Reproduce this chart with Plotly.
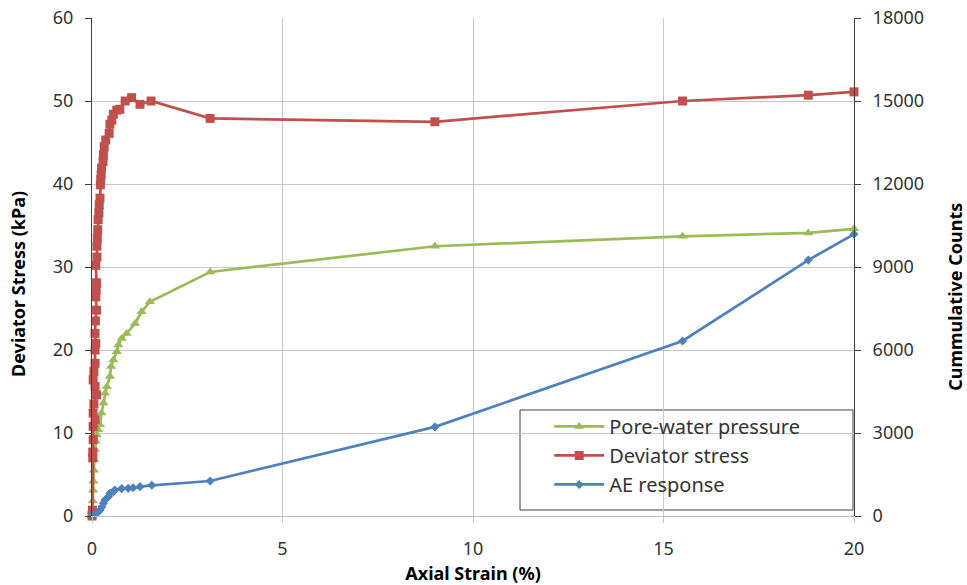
import plotly.graph_objects as go

# Deviator stress (kPa) vs axial strain (%)
dev_strain = [0.00, 0.01, 0.02, 0.02, 0.03, 0.03, 0.08, 0.03, 0.05, 0.12, 0.08, 0.03, 0.05, 0.08, 0.08,
              0.10, 0.08, 0.09, 0.12, 0.10, 0.11, 0.12, 0.10, 0.13, 0.13, 0.14, 0.15, 0.16, 0.18, 0.19,
              0.21, 0.22, 0.23, 0.24, 0.25, 0.29, 0.30, 0.32, 0.36, 0.45, 0.47, 0.52, 0.56, 0.65, 0.73,
              0.87, 1.04, 1.26, 1.55, 3.10, 9.00, 15.50, 18.80, 20.00]
dev_stress = [0.0, 0.7, 7.0, 7.7, 9.2, 10.8, 11.6, 12.4, 13.5, 14.6, 15.6, 16.4, 17.4, 18.4, 20.0,
              20.8, 22.0, 23.5, 24.8, 26.4, 27.2, 28.1, 30.2, 31.2, 32.5, 33.5, 34.5, 35.7, 36.5, 37.5,
              38.3, 39.9, 40.5, 41.1, 41.9, 42.7, 43.5, 44.5, 45.3, 46.1, 47.2, 47.7, 48.4, 48.9, 49.0,
              50.0, 50.4, 49.6, 50.0, 47.9, 47.5, 50.0, 50.7, 51.1]

# Pore-water pressure (kPa) vs axial strain (%)
pwp_strain = [0.00, 0.01, 0.02, 0.03, 0.04, 0.05, 0.06, 0.08, 0.10, 0.12, 0.16, 0.21, 0.25, 0.30, 0.34,
              0.39, 0.47, 0.50, 0.56, 0.65, 0.69, 0.78, 0.91, 1.13, 1.30, 1.52, 3.10, 9.00, 15.50, 18.80, 20.00]
pwp = [0.0, 0.8, 1.8, 3.1, 4.2, 5.5, 6.8, 8.0, 9.0, 9.8, 10.4, 11.0, 12.4, 13.6, 14.8,
       15.6, 16.8, 18.0, 18.8, 19.8, 20.6, 21.4, 22.0, 23.2, 24.6, 25.8, 29.4, 32.5, 33.7, 34.1, 34.6]

# AE response (cumulative counts) vs axial strain (%)
ae_strain = [0.00, 0.02, 0.05, 0.08, 0.12, 0.17, 0.21, 0.26, 0.30, 0.34, 0.43, 0.47, 0.56, 0.60,
             0.78, 0.95, 1.08, 1.26, 1.57, 3.10, 9.00, 15.50, 18.80, 20.00]
ae_counts = [0, 20, 50, 80, 100, 155, 217, 330, 460, 580, 700, 820, 880, 940,
             990, 1000, 1020, 1060, 1110, 1265, 3220, 6325, 9250, 10190]

x_ticks = [0, 5, 10, 15, 20]
y_ticks = [0, 10, 20, 30, 40, 50, 60]
y2_ticks = [0, 3000, 6000, 9000, 12000, 15000, 18000]

FONT = "Noto Sans"
RED = "#C0504D"
GREEN = "#9BBB59"
BLUE = "#4F81BD"
TXT = "#333333"

fig = go.Figure()
fig.add_trace(go.Scatter(x=pwp_strain, y=pwp, name="Pore-water pressure", mode="lines+markers",
                         line=dict(color=GREEN, width=2.75), legendgroup="a",
                         marker=dict(symbol="triangle-up", size=9, color=GREEN), cliponaxis=False))
fig.add_trace(go.Scatter(x=dev_strain, y=dev_stress, name="Deviator stress", mode="lines+markers",
                         line=dict(color=RED, width=2.75), legendgroup="b",
                         marker=dict(symbol="square", size=9, color=RED), cliponaxis=False))
fig.add_trace(go.Scatter(x=ae_strain, y=ae_counts, name="AE response", mode="lines+markers", yaxis="y2",
                         line=dict(color=BLUE, width=2.75), legendgroup="c",
                         marker=dict(symbol="diamond", size=7, color=BLUE), cliponaxis=False))

fig.update_layout(
    width=967, height=585,
    margin=dict(l=92, r=113, t=18, b=69, autoexpand=False),
    paper_bgcolor="white", plot_bgcolor="white",
    font=dict(family=FONT, size=18, color=TXT),
    xaxis=dict(range=[0, 20], tickvals=x_ticks, ticks="outside", ticklen=6, tickcolor="#BFBFBF",
               showline=True, linecolor="#BFBFBF", linewidth=1, showgrid=True, gridcolor="#C8C8C8",
               zeroline=False, tickfont=dict(size=18), ticklabelstandoff=10, automargin=False,
               title=dict(text="<b>Axial Strain (%)</b>", font=dict(size=18, color="black"), standoff=10)),
    yaxis=dict(range=[0, 60], tickvals=y_ticks, ticks="outside", ticklen=6, tickcolor="#404040",
               showline=True, linecolor="#404040", linewidth=1, showgrid=True, gridcolor="#C8C8C8",
               zeroline=False, tickfont=dict(size=18), ticklabelstandoff=8, automargin=False),
    yaxis2=dict(range=[0, 18000], tickvals=y2_ticks, tickformat="d", overlaying="y", side="right",
                ticks="outside", ticklen=6, tickcolor="#404040", showline=True, linecolor="#404040",
                linewidth=1, showgrid=False, zeroline=False, tickfont=dict(size=18), ticklabelstandoff=8,
                automargin=False),
    annotations=[
        dict(text="<b>Deviator Stress (kPa)</b>", xref="paper", yref="paper", x=-0.0971, y=0.466,
             textangle=-90, showarrow=False, font=dict(size=18, color="black"),
             xanchor="center", yanchor="middle"),
        dict(text="<b>Cummulative Counts</b>", xref="paper", yref="paper", x=1.1325, y=0.44,
             textangle=-90, showarrow=False, font=dict(size=18, color="black"),
             xanchor="center", yanchor="middle"),
    ],
    shapes=[
        dict(type="rect", xref="paper", yref="paper", x0=0.5617, x1=0.9987, y0=0.012, y1=0.2129,
             line=dict(color="#404040", width=1), fillcolor="white", layer="between"),
    ],
    legend=dict(x=0.60, y=0.219, xanchor="left", yanchor="top", bgcolor="rgba(0,0,0,0)",
                borderwidth=0, font=dict(size=20, color=TXT),
                itemwidth=50, tracegroupgap=10, traceorder="normal"),
    showlegend=True,
)

fig.write_html("out.html")
